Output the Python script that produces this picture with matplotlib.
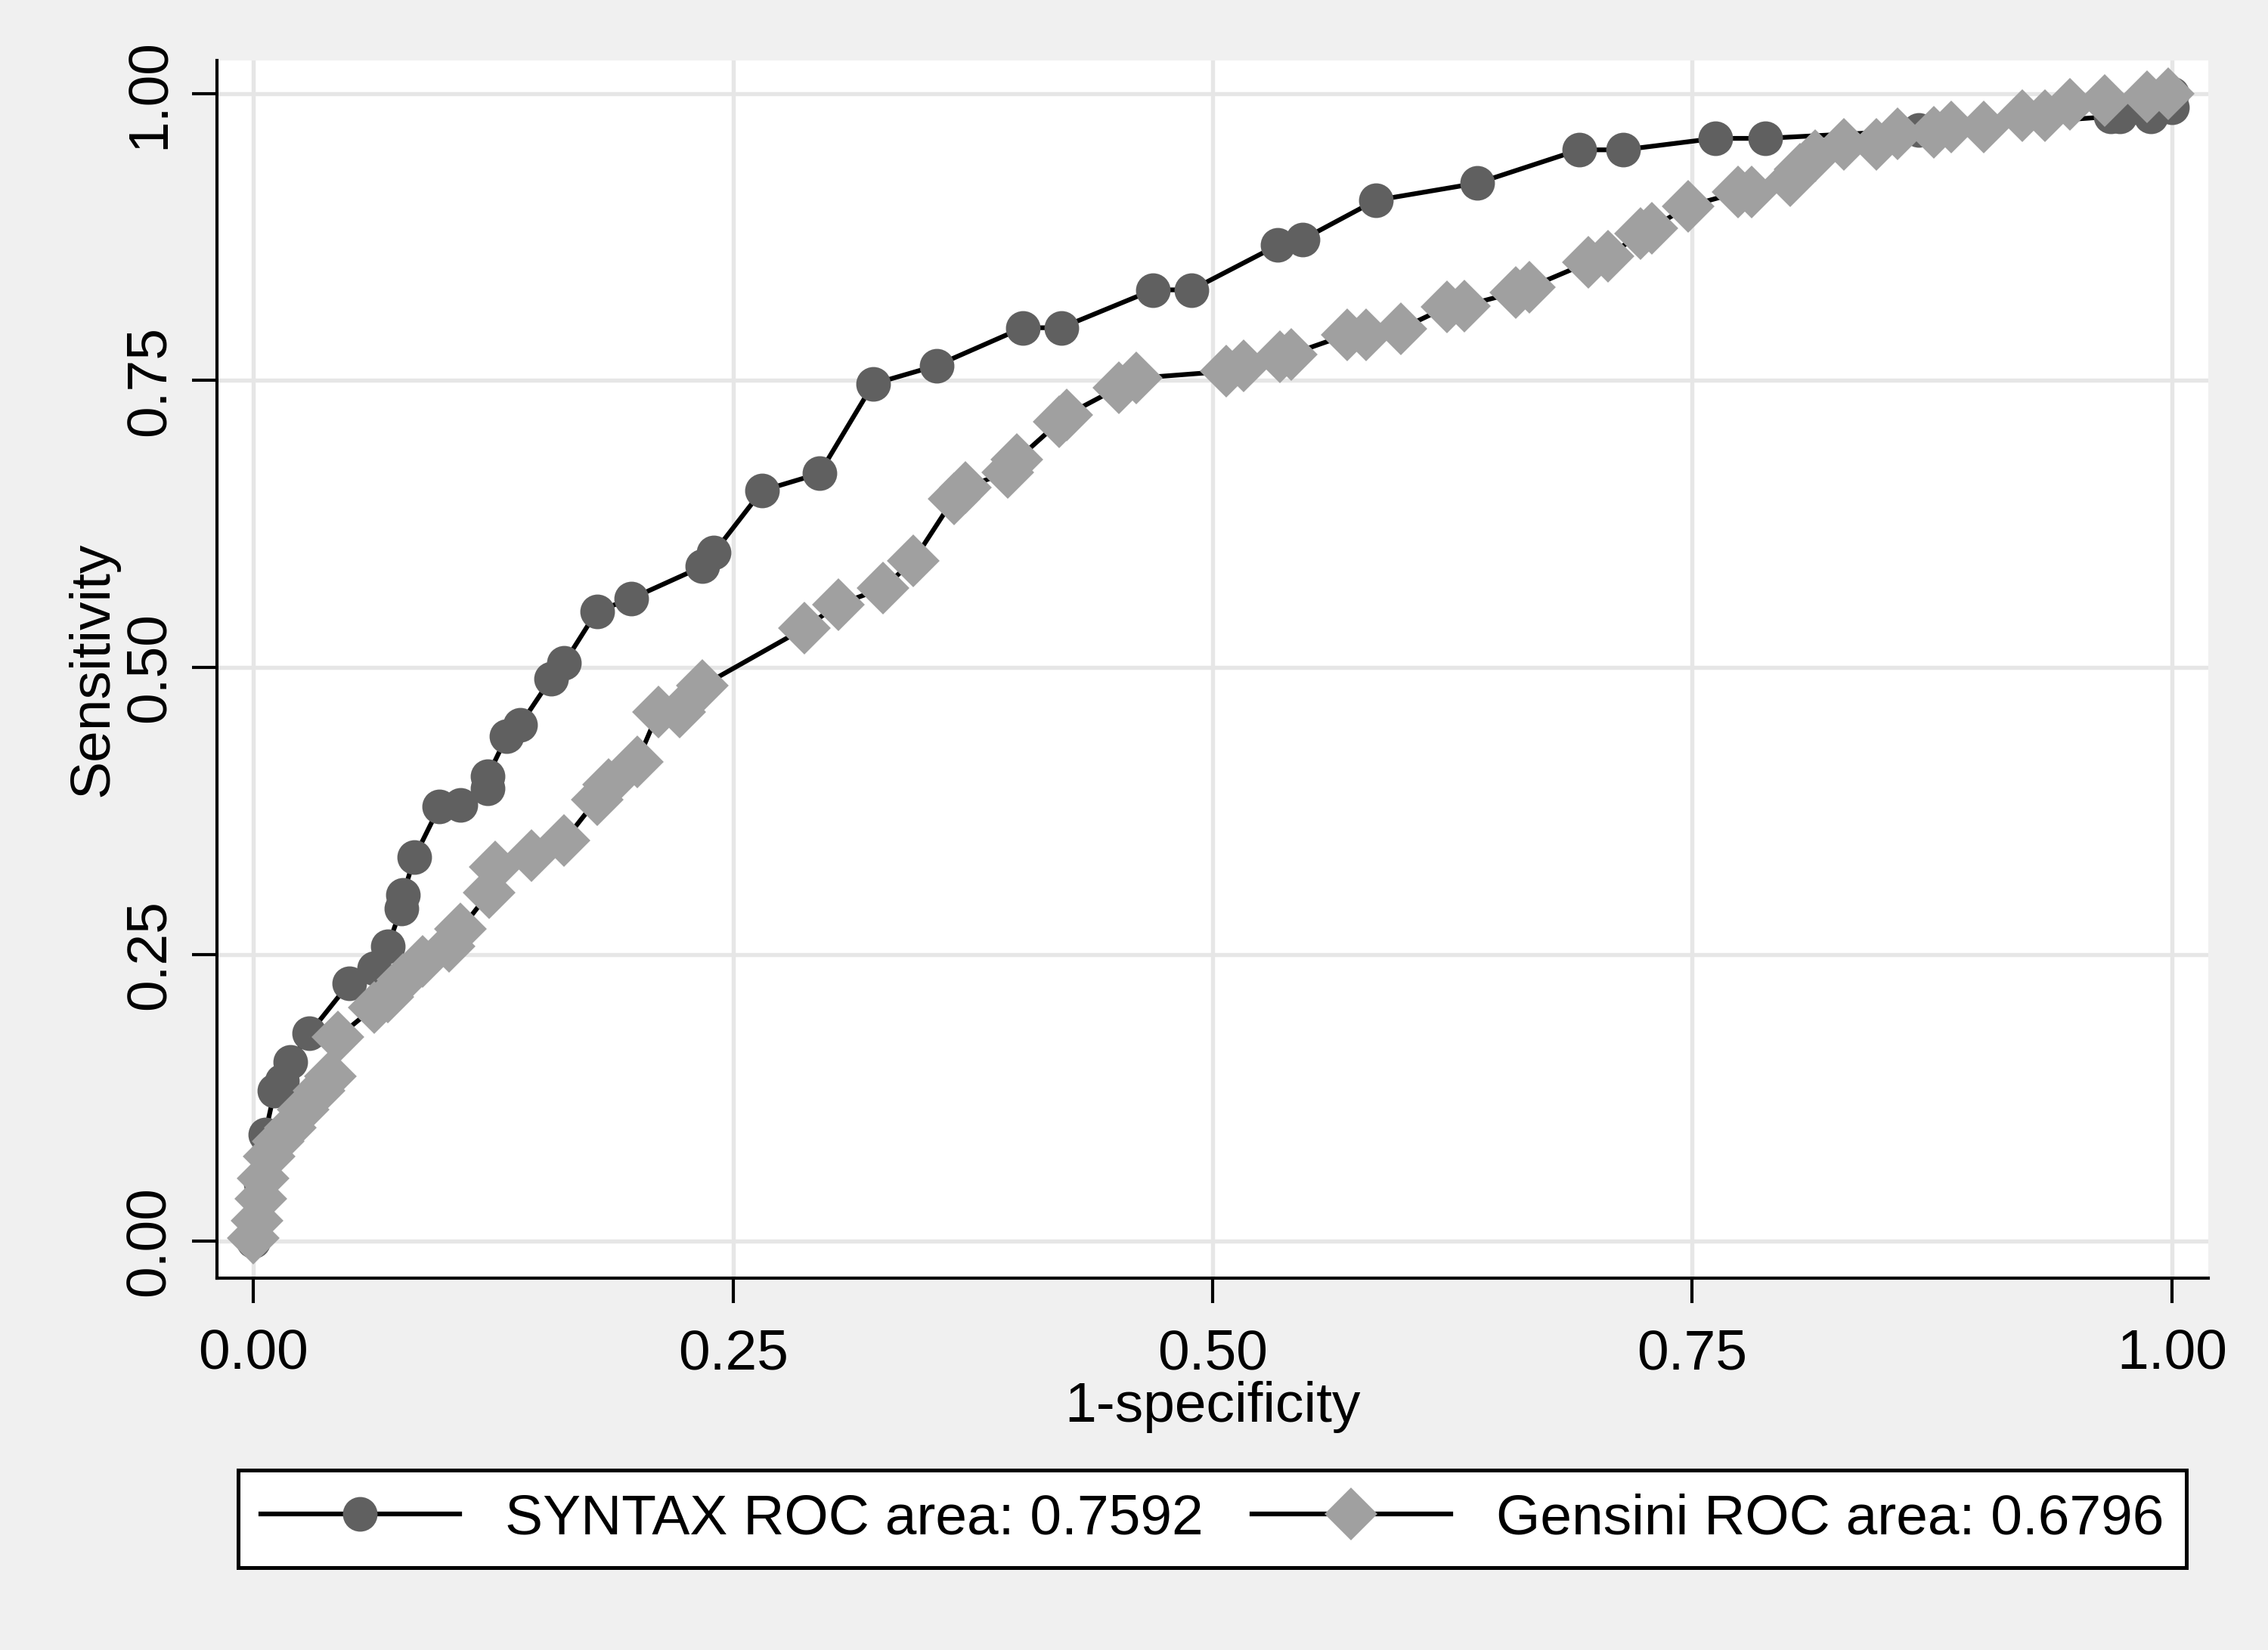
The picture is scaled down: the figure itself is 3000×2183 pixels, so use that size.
import matplotlib.pyplot as plt

# ROC-Kurven: x = 1-Spezifitaet, y = Sensitivitaet
syntax_fpr = [0.0, 0.004, 0.006, 0.011, 0.015, 0.019, 0.029, 0.050, 0.063, 0.070,
              0.077, 0.078, 0.084, 0.097, 0.108, 0.122, 0.122, 0.132, 0.139, 0.155,
              0.162, 0.179, 0.197, 0.234, 0.240, 0.265, 0.295, 0.323, 0.356, 0.401,
              0.421, 0.469, 0.489, 0.534, 0.547, 0.585, 0.638, 0.691, 0.714, 0.762,
              0.788, 0.868, 0.968, 0.973, 0.989, 1.0, 1.0]
syntax_tpr = [0.0, 0.050, 0.093, 0.131, 0.140, 0.156, 0.181, 0.225, 0.238, 0.257,
              0.290, 0.302, 0.335, 0.379, 0.380, 0.395, 0.405, 0.440, 0.450, 0.490,
              0.504, 0.549, 0.560, 0.588, 0.600, 0.654, 0.669, 0.747, 0.763, 0.796,
              0.796, 0.829, 0.829, 0.868, 0.873, 0.907, 0.922, 0.951, 0.951, 0.961,
              0.961, 0.968, 0.980, 0.980, 0.980, 0.988, 1.0]

gensini_fpr = [0.0, 0.002, 0.004, 0.005, 0.008, 0.013, 0.019, 0.026, 0.034, 0.040,
               0.044, 0.063, 0.070, 0.078, 0.088, 0.102, 0.108, 0.123, 0.126, 0.145,
               0.162, 0.179, 0.185, 0.200, 0.211, 0.222, 0.234, 0.287, 0.305, 0.328,
               0.344, 0.365, 0.371, 0.393, 0.398, 0.420, 0.424, 0.451, 0.460, 0.507,
               0.516, 0.535, 0.541, 0.570, 0.580, 0.598, 0.622, 0.631, 0.658, 0.665,
               0.696, 0.706, 0.723, 0.729, 0.748, 0.774, 0.781, 0.801, 0.806, 0.814,
               0.829, 0.846, 0.857, 0.876, 0.885, 0.902, 0.922, 0.934, 0.947, 0.965,
               0.987, 0.998]
gensini_tpr = [0.003, 0.018, 0.037, 0.055, 0.074, 0.087, 0.099, 0.115, 0.131, 0.144,
               0.178, 0.204, 0.213, 0.228, 0.244, 0.257, 0.272, 0.304, 0.326, 0.336,
               0.349, 0.385, 0.398, 0.418, 0.461, 0.461, 0.484, 0.534, 0.555, 0.569,
               0.593, 0.647, 0.657, 0.670, 0.681, 0.714, 0.720, 0.744, 0.752, 0.758,
               0.763, 0.771, 0.773, 0.790, 0.790, 0.795, 0.814, 0.815, 0.827, 0.831,
               0.853, 0.858, 0.878, 0.883, 0.902, 0.914, 0.914, 0.924, 0.934, 0.946,
               0.956, 0.956, 0.965, 0.966, 0.971, 0.971, 0.981, 0.981, 0.991, 0.994,
               0.997, 1.0]

ticks = [0.0, 0.25, 0.5, 0.75, 1.0]
tick_labels = ['0.00', '0.25', '0.50', '0.75', '1.00']
syntax_label = 'SYNTAX ROC area: 0.7592'
gensini_label = 'Gensini ROC area: 0.6796'

plt.rcParams['font.family'] = ['Liberation Sans', 'DejaVu Sans']
fs = 18

fig = plt.figure(figsize=(10, 7.277), dpi=300, facecolor='#f0f0f0')
ax = fig.add_axes([0.0957, 0.2254, 0.878, 0.738])
ax.set_facecolor('white')

ax.plot(syntax_fpr, syntax_tpr, color='black', linewidth=1.5, marker='o',
        markersize=10, markerfacecolor='#606060', markeredgecolor='#606060',
        label=syntax_label, zorder=3)
ax.plot(gensini_fpr, gensini_tpr, color='black', linewidth=1.5, marker='D',
        markersize=11, markerfacecolor='#a0a0a0', markeredgecolor='#a0a0a0',
        label=gensini_label, zorder=4)

ax.set_xlim(-0.019, 1.019)
ax.set_ylim(-0.032, 1.029)
ax.set_xticks(ticks)
ax.set_xticklabels(tick_labels)
ax.set_yticks(ticks)
ax.set_yticklabels(tick_labels, rotation=90, va='center')
ax.grid(True, color='#e6e6e6', linewidth=1.3)
ax.set_axisbelow(True)

for side in ['top', 'right']:
    ax.spines[side].set_visible(False)
ax.spines['left'].set_linewidth(1.0)
ax.spines['bottom'].set_linewidth(1.0)
ax.tick_params(axis='both', labelsize=fs, length=8, width=1.0, direction='out')
ax.tick_params(axis='y', pad=5)
ax.tick_params(axis='x', pad=8)

ax.set_xlabel('1-specificity', fontsize=fs, labelpad=0)
ax.set_ylabel('Sensitivity', fontsize=fs)
ax.yaxis.set_label_coords(-0.049, 0.5)

leg = fig.legend(loc='center', bbox_to_anchor=(0.105, 0.049, 0.859, 0.061),
                 mode='expand', ncol=2, fontsize=fs, frameon=True,
                 fancybox=False, edgecolor='black', facecolor='white',
                 framealpha=1, handlelength=3.5, borderaxespad=0)
leg.get_frame().set_linewidth(1.2)

fig.savefig('out.png', dpi=300, facecolor=fig.get_facecolor())
